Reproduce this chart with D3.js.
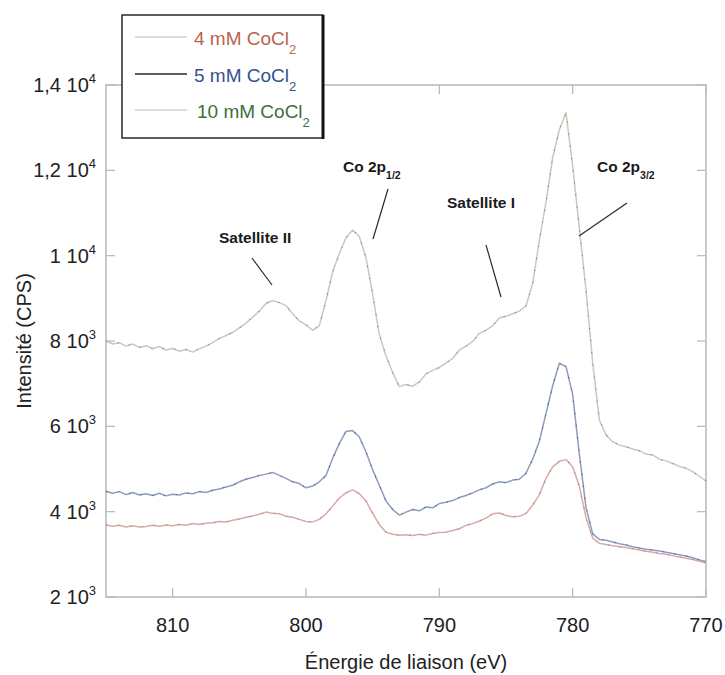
<!DOCTYPE html>
<html>
<head>
<meta charset="utf-8">
<script src="https://cdn.jsdelivr.net/npm/d3@7"></script>
<style>
  html, body { margin: 0; padding: 0; background: #fff; }
  svg text { font-family: "Liberation Sans", Arial, sans-serif; }
</style>
</head>
<body>
<svg id="chart" width="725" height="675"></svg>
<script>
// Binding energy grid (eV), 0.5 eV steps from 815 down to 770
const energies = [
  815.0, 814.5, 814.0, 813.5, 813.0, 812.5, 812.0, 811.5, 811.0, 810.5,
  810.0, 809.5, 809.0, 808.5, 808.0, 807.5, 807.0, 806.5, 806.0, 805.5,
  805.0, 804.5, 804.0, 803.5, 803.0, 802.5, 802.0, 801.5, 801.0, 800.5,
  800.0, 799.5, 799.0, 798.5, 798.0, 797.5, 797.0, 796.5, 796.0, 795.5,
  795.0, 794.5, 794.0, 793.5, 793.0, 792.5, 792.0, 791.5, 791.0, 790.5,
  790.0, 789.5, 789.0, 788.5, 788.0, 787.5, 787.0, 786.5, 786.0, 785.5,
  785.0, 784.5, 784.0, 783.5, 783.0, 782.5, 782.0, 781.5, 781.0, 780.5,
  780.0, 779.5, 779.0, 778.5, 778.0, 777.5, 777.0, 776.5, 776.0, 775.5,
  775.0, 774.5, 774.0, 773.5, 773.0, 772.5, 772.0, 771.5, 771.0, 770.5,
  770.0
];

// Co 2p intensity (CPS), 10 mM CoCl2
const cps10mM = [
  8000, 7930, 7960, 7880, 7930, 7850, 7890, 7820, 7870, 7790,
  7830, 7760, 7800, 7740, 7820, 7880, 7960, 8060, 8130, 8200,
  8310, 8420, 8560, 8700, 8880, 8950, 8900, 8830, 8640, 8470,
  8380, 8250, 8360, 8950, 9620, 10050, 10420, 10600, 10450, 9950,
  9100, 8150, 7650, 7260, 6930, 6980, 6940, 7040, 7230, 7310,
  7380, 7480, 7590, 7790, 7880, 7990, 8180, 8250, 8360, 8540,
  8580, 8640, 8700, 8820, 9350, 10350, 11250, 12300, 12950, 13350,
  12100, 10650, 9200, 7500, 6150, 5800, 5640, 5560, 5520, 5470,
  5430, 5350, 5330, 5230, 5190, 5130, 5060, 5020, 4940, 4830,
  4720
];

// Co 2p intensity (CPS), 5 mM CoCl2
const cps5mM = [
  4480, 4430, 4470, 4400, 4450, 4390, 4420, 4380, 4430, 4370,
  4410, 4390, 4440, 4420, 4470, 4450, 4500, 4530, 4580, 4620,
  4700, 4760, 4800, 4850, 4880, 4920, 4850, 4780, 4700, 4660,
  4560, 4600, 4700, 4850, 5250, 5600, 5880, 5900, 5750, 5400,
  4980, 4620, 4250, 4050, 3920, 3990, 4050, 4020, 4110, 4090,
  4190, 4220, 4260, 4330, 4380, 4440, 4510, 4560, 4650, 4700,
  4680, 4740, 4760, 4900, 5230, 5650, 6300, 6950, 7480, 7400,
  6750, 5350, 4100, 3480, 3350, 3330, 3290, 3250, 3220, 3180,
  3150, 3120, 3100, 3080, 3050, 3020, 2990, 2960, 2920, 2870,
  2830
];

// Co 2p intensity (CPS), 4 mM CoCl2
const cps4mM = [
  3690, 3660, 3680, 3640, 3670, 3640, 3650, 3680, 3660, 3690,
  3670, 3700, 3680, 3720, 3700, 3730, 3740, 3770, 3760, 3800,
  3830, 3870, 3900, 3940, 3990, 3960, 3950, 3890, 3870, 3820,
  3770, 3760, 3820, 3950, 4130, 4320, 4440, 4510, 4420, 4250,
  3960, 3700, 3520, 3470, 3450, 3460, 3440, 3470, 3450, 3490,
  3510, 3520, 3560, 3600, 3680, 3720, 3780, 3850, 3950, 3970,
  3910, 3880, 3890, 3960, 4150, 4400, 4780, 5050, 5180, 5220,
  5050, 4600, 3860, 3380, 3260, 3230, 3200, 3180, 3160, 3130,
  3100, 3070, 3050, 3020, 3000, 2970, 2940, 2910, 2880, 2840,
  2800
];

const seriesNames = ["4 mM CoCl", "5 mM CoCl", "10 mM CoCl"];

const xTicks = [810, 800, 790, 780, 770];
const yTicks = [2000, 4000, 6000, 8000, 10000, 12000, 14000];
const yTickMantissa = ["2", "4", "6", "8", "1", "1,2", "1,4"];
const yTickExponent = ["3", "3", "3", "3", "4", "4", "4"];

const peakLabels = [
  { main: "Satellite II", sub: "" },
  { main: "Co 2p", sub: "1/2" },
  { main: "Satellite I", sub: "" },
  { main: "Co 2p", sub: "3/2" }
];

const svg = d3.select("#chart");
const plotLeft = 106, plotRight = 706, plotTop = 85, plotBottom = 597;

const x = d3.scaleLinear().domain([815, 770]).range([plotLeft, plotRight]);
const y = d3.scaleLinear().domain([2000, 14000]).range([plotBottom, plotTop]);

const frameColor = "#bcbcbc";

// Plot frame
svg.append("rect")
  .attr("x", plotLeft).attr("y", plotTop)
  .attr("width", plotRight - plotLeft).attr("height", plotBottom - plotTop)
  .attr("fill", "none").attr("stroke", frameColor).attr("stroke-width", 1.6);

// Inward ticks on all four sides
const tickLen = 9;
const tickG = svg.append("g").attr("stroke", frameColor).attr("stroke-width", 1.3);
xTicks.forEach(t => {
  tickG.append("line").attr("x1", x(t)).attr("x2", x(t)).attr("y1", plotBottom).attr("y2", plotBottom - tickLen);
  tickG.append("line").attr("x1", x(t)).attr("x2", x(t)).attr("y1", plotTop).attr("y2", plotTop + tickLen);
});
yTicks.forEach(t => {
  tickG.append("line").attr("x1", plotLeft).attr("x2", plotLeft + tickLen).attr("y1", y(t)).attr("y2", y(t));
  tickG.append("line").attr("x1", plotRight).attr("x2", plotRight - tickLen).attr("y1", y(t)).attr("y2", y(t));
});

// X tick labels
svg.append("g").selectAll("text").data(xTicks).join("text")
  .attr("x", d => x(d)).attr("y", 632)
  .attr("text-anchor", "middle")
  .attr("font-size", 20).attr("fill", "#222")
  .text(d => d);

// Y tick labels in "m 10^e" form
const yLab = svg.append("g");
yTicks.forEach((t, i) => {
  const txt = yLab.append("text")
    .attr("x", 96).attr("y", y(t) + 7)
    .attr("text-anchor", "end")
    .attr("font-size", 20).attr("fill", "#222");
  txt.append("tspan").text(yTickMantissa[i] + " 10");
  txt.append("tspan").attr("dy", -9).attr("font-size", 13).text(yTickExponent[i]);
});

// Axis titles
svg.append("text")
  .attr("x", (plotLeft + plotRight) / 2).attr("y", 669)
  .attr("text-anchor", "middle").attr("font-size", 20).attr("fill", "#222")
  .text("Énergie de liaison (eV)");

svg.append("text")
  .attr("transform", `translate(31, ${(plotTop + plotBottom) / 2}) rotate(-90)`)
  .attr("text-anchor", "middle").attr("font-size", 20).attr("fill", "#222")
  .text("Intensité (CPS)");

// Spectra
const line = d3.line().x(d => x(d[0])).y(d => y(d[1]));
const spectra = [
  { values: cps4mM,  stroke: "#d9aaa6", speck: "#8a5a55" },
  { values: cps5mM,  stroke: "#8d9cbf", speck: "#1f2433" },
  { values: cps10mM, stroke: "#c6cbbd", speck: "#4a4d46" }
];
spectra.forEach(s => {
  const pts = energies.map((e, i) => [e, s.values[i]]);
  svg.append("path").datum(pts)
    .attr("d", line).attr("fill", "none")
    .attr("stroke", s.stroke).attr("stroke-width", 1.5)
    .attr("stroke-linejoin", "round");
  svg.append("path").datum(pts)
    .attr("d", line).attr("fill", "none")
    .attr("stroke", s.speck).attr("stroke-width", 1.1)
    .attr("stroke-dasharray", "1.2 11").attr("opacity", 0.55);
});

// Peak annotations with leader lines
const annG = svg.append("g");
const annPos = [
  { tx: 219, ty: 243, line: [252, 258, 272, 285] },
  { tx: 343, ty: 172, line: [388, 189, 373, 239] },
  { tx: 447, ty: 208, line: [486, 245, 501, 297] },
  { tx: 597, ty: 172, line: [627, 203, 579, 236] }
];
peakLabels.forEach((p, i) => {
  const a = annPos[i];
  const t = annG.append("text")
    .attr("x", a.tx).attr("y", a.ty)
    .attr("font-size", 15.5).attr("font-weight", "bold").attr("fill", "#1a1a1a");
  t.append("tspan").text(p.main);
  if (p.sub) t.append("tspan").attr("dy", 7).attr("font-size", 10.5).text(p.sub);
  annG.append("line")
    .attr("x1", a.line[0]).attr("y1", a.line[1])
    .attr("x2", a.line[2]).attr("y2", a.line[3])
    .attr("stroke", "#2a2a2a").attr("stroke-width", 1.2);
});

// Legend
const legend = svg.append("g");
legend.append("rect")
  .attr("x", 122).attr("y", 15).attr("width", 201).attr("height", 123)
  .attr("fill", "#fff").attr("stroke", "#1a1a1a").attr("stroke-width", 1.4);
legend.append("line")
  .attr("x1", 323).attr("x2", 323).attr("y1", 15).attr("y2", 139)
  .attr("stroke", "#111").attr("stroke-width", 3);
const legendRows = [
  { y: 37, lineColor: "#cfcfcf", textColor: "#b8644c" },
  { y: 74, lineColor: "#2a2a2a", textColor: "#35528c" },
  { y: 110, lineColor: "#d2d2d2", textColor: "#416d40" }
];
legendRows.forEach((r, i) => {
  legend.append("line")
    .attr("x1", 135).attr("x2", 187).attr("y1", r.y).attr("y2", r.y)
    .attr("stroke", r.lineColor).attr("stroke-width", 1.3);
  const t = legend.append("text")
    .attr("x", i === 2 ? 197 : 194).attr("y", r.y + 8)
    .attr("font-size", 19).attr("fill", r.textColor);
  t.append("tspan").text(seriesNames[i]);
  t.append("tspan").attr("dy", 9).attr("font-size", 13).text("2");
});
</script>
</body>
</html>
